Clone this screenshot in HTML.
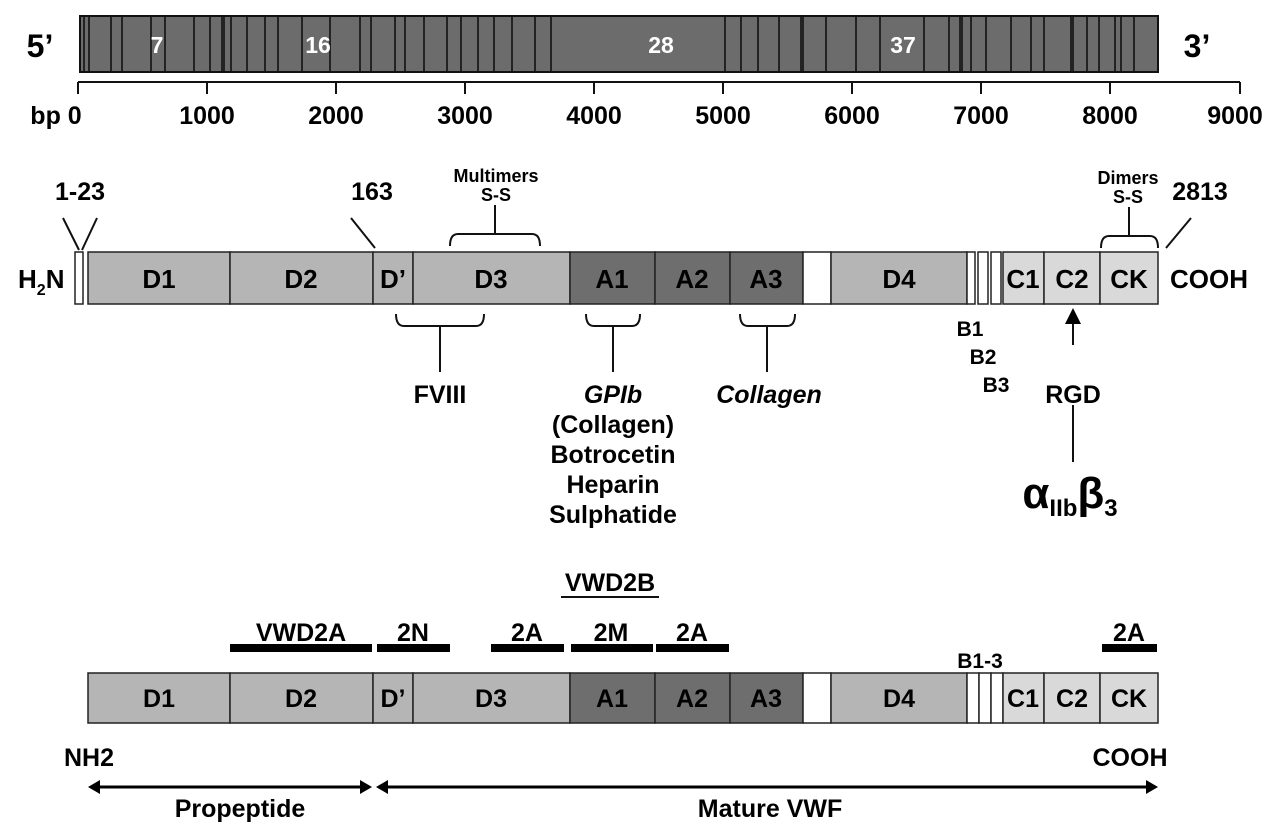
<!DOCTYPE html><html><head><style>body{margin:0;background:#fff}svg{display:block}text{font-family:"Liberation Sans Narrow","Liberation Sans",Arial,sans-serif;font-weight:bold}</style></head><body>
<svg width="1280" height="831" viewBox="0 0 1280 831">
<defs><marker id="ah" markerWidth="8" markerHeight="8" refX="4" refY="4" orient="auto"><path d="M0,0 L8,4 L0,8 Z" fill="#000"/></marker></defs>
<text x="40" y="57" font-size="32" text-anchor="middle">5’</text>
<text x="1197" y="57" font-size="32" text-anchor="middle">3’</text>
<rect x="80" y="16" width="1078" height="56" fill="#6c6c6c" stroke="#111" stroke-width="2"/>
<g stroke="#111" stroke-width="1.6">
<path d="M84 16V72M89 16V72M111 16V72M122 16V72M151 16V72M165 16V72M194 16V72M210 16V72M222 16V72M224 16V72M231 16V72M247 16V72M265 16V72M278 16V72M302 16V72M330 16V72M360 16V72M371 16V72M395 16V72M405 16V72M424 16V72M447 16V72M461 16V72M478 16V72M494 16V72M512 16V72M535 16V72M551 16V72M725 16V72M741 16V72M758 16V72M779 16V72M801 16V72M803 16V72M826 16V72M856 16V72M880 16V72M924 16V72M949 16V72M960 16V72M962 16V72M971 16V72M986 16V72M1011 16V72M1031 16V72M1044 16V72M1071 16V72M1073 16V72M1087 16V72M1099 16V72M1115 16V72M1121 16V72M1134 16V72"/>
</g>
<g fill="#fff" font-size="23" text-anchor="middle"><text x="157" y="53">7</text><text x="318" y="53">16</text><text x="661" y="53">28</text><text x="903" y="53">37</text></g>
<g stroke="#111" stroke-width="2" fill="none"><path d="M78 82H1240M78 82V94M207 82V94M336 82V94M465 82V94M594 82V94M723 82V94M852 82V94M981 82V94M1110 82V94M1240 82V94"/></g>
<g font-size="25" text-anchor="middle"><text x="56" y="124">bp 0</text><text x="207" y="124">1000</text><text x="336" y="124">2000</text><text x="465" y="124">3000</text><text x="594" y="124">4000</text><text x="723" y="124">5000</text><text x="852" y="124">6000</text><text x="981" y="124">7000</text><text x="1110" y="124">8000</text><text x="1235" y="124">9000</text></g>

<g stroke="#222" stroke-width="1.5">
<rect x="75" y="252" width="8" height="52" fill="#fff"/>
<rect x="88" y="252" width="142" height="52" fill="#b5b5b5"/>
<rect x="230" y="252" width="143" height="52" fill="#b5b5b5"/>
<rect x="373" y="252" width="40" height="52" fill="#b5b5b5"/>
<rect x="413" y="252" width="157" height="52" fill="#b5b5b5"/>
<rect x="570" y="252" width="85" height="52" fill="#6e6e6e"/>
<rect x="655" y="252" width="75" height="52" fill="#6e6e6e"/>
<rect x="730" y="252" width="73" height="52" fill="#6e6e6e"/>
<rect x="803" y="252" width="28" height="52" fill="#fff"/>
<rect x="831" y="252" width="136" height="52" fill="#b5b5b5"/>
<rect x="967" y="252" width="8" height="52" fill="#fff"/>
<rect x="978" y="252" width="10" height="52" fill="#fff"/>
<rect x="991" y="252" width="10" height="52" fill="#fff"/>
<rect x="1003" y="252" width="41" height="52" fill="#d9d9d9"/>
<rect x="1044" y="252" width="56" height="52" fill="#d9d9d9"/>
<rect x="1100" y="252" width="58" height="52" fill="#d9d9d9"/>
</g>
<g font-size="26" text-anchor="middle"><text x="159" y="288">D1</text><text x="301" y="288">D2</text><text x="393" y="288">D’</text><text x="491" y="288">D3</text><text x="612" y="288">A1</text><text x="692" y="288">A2</text><text x="766" y="288">A3</text><text x="899" y="288">D4</text><text x="1023" y="288">C1</text><text x="1072" y="288">C2</text><text x="1129" y="288">CK</text></g>
<text x="18" y="288" font-size="26">H<tspan font-size="16" dy="7">2</tspan><tspan dy="-7">N</tspan></text>
<text x="1170" y="288" font-size="26">COOH</text>
<g font-size="25" text-anchor="middle"><text x="80" y="200">1-23</text><text x="372" y="200">163</text><text x="1200" y="200">2813</text></g>
<g font-size="18" text-anchor="middle"><text x="496" y="182">Multimers</text><text x="496" y="201">S-S</text><text x="1128" y="184">Dimers</text><text x="1128" y="203">S-S</text></g>
<g stroke="#111" stroke-width="2" fill="none">
<path d="M63 218L79 250M97 218L82 250M351 218L375 248M1191 218L1166 248"/>
<path d="M450 246Q450 234 458 234H532Q540 234 540 246M495 234V205"/>
<path d="M1101 248Q1101 236 1109 236H1150Q1158 236 1158 248M1129 236V207"/>
<path d="M396 314Q396 326 404 326H476Q484 326 484 314M440 326V372"/>
<path d="M586 314Q586 326 594 326H632Q640 326 640 314M613 326V372"/>
<path d="M740 314Q740 326 748 326H787Q795 326 795 314M767 326V372"/>
<path d="M1073 345V316" marker-end="url(#ah)"/>
<path d="M1073 405V462"/>
</g>
<g font-size="25" text-anchor="middle">
<text x="440" y="403">FVIII</text>
<text x="613" y="403" font-style="italic">GPIb</text>
<text x="613" y="433" font-weight="normal">(Collagen)</text>
<text x="613" y="463" font-weight="normal">Botrocetin</text>
<text x="613" y="493" font-weight="normal">Heparin</text>
<text x="613" y="523" font-weight="normal">Sulphatide</text>
<text x="769" y="403" font-style="italic">Collagen</text>
<text x="1073" y="403">RGD</text>
</g>
<g font-size="21" text-anchor="middle"><text x="970" y="336">B1</text><text x="983" y="364">B2</text><text x="996" y="392">B3</text></g>
<text x="1070" y="508" font-size="44" text-anchor="middle">α<tspan font-size="24" dy="8">IIb</tspan><tspan dy="-8">β</tspan><tspan font-size="24" dy="8">3</tspan></text>

<text x="610" y="591" font-size="25" text-anchor="middle">VWD2B</text>
<path d="M561 597H659" stroke="#111" stroke-width="2"/>
<g font-size="25" text-anchor="middle"><text x="301" y="641">VWD2A</text><text x="413" y="641">2N</text><text x="527" y="641">2A</text><text x="611" y="641">2M</text><text x="692" y="641">2A</text><text x="1129" y="641">2A</text></g>
<g fill="#000"><rect x="230" y="644" width="142" height="8"/><rect x="377" y="644" width="73" height="8"/><rect x="491" y="644" width="73" height="8"/><rect x="571" y="644" width="82" height="8"/><rect x="656" y="644" width="73" height="8"/><rect x="1102" y="644" width="55" height="8"/></g>
<text x="980" y="668" font-size="21" text-anchor="middle">B1-3</text>
<g stroke="#222" stroke-width="1.5">
<rect x="88" y="673" width="142" height="50" fill="#b5b5b5"/>
<rect x="230" y="673" width="143" height="50" fill="#b5b5b5"/>
<rect x="373" y="673" width="40" height="50" fill="#b5b5b5"/>
<rect x="413" y="673" width="157" height="50" fill="#b5b5b5"/>
<rect x="570" y="673" width="85" height="50" fill="#6e6e6e"/>
<rect x="655" y="673" width="75" height="50" fill="#6e6e6e"/>
<rect x="730" y="673" width="73" height="50" fill="#6e6e6e"/>
<rect x="803" y="673" width="28" height="50" fill="#fff"/>
<rect x="831" y="673" width="136" height="50" fill="#b5b5b5"/>
<rect x="967" y="673" width="12" height="50" fill="#fff"/>
<rect x="979" y="673" width="12" height="50" fill="#fff"/>
<rect x="991" y="673" width="12" height="50" fill="#fff"/>
<rect x="1003" y="673" width="41" height="50" fill="#d9d9d9"/>
<rect x="1044" y="673" width="56" height="50" fill="#d9d9d9"/>
<rect x="1100" y="673" width="58" height="50" fill="#d9d9d9"/>
</g>
<g font-size="25" text-anchor="middle"><text x="159" y="707">D1</text><text x="301" y="707">D2</text><text x="393" y="707">D’</text><text x="491" y="707">D3</text><text x="612" y="707">A1</text><text x="692" y="707">A2</text><text x="766" y="707">A3</text><text x="899" y="707">D4</text><text x="1023" y="707">C1</text><text x="1072" y="707">C2</text><text x="1129" y="707">CK</text></g>
<g font-size="25" text-anchor="middle"><text x="89" y="766">NH2</text><text x="1130" y="766">COOH</text><text x="240" y="817">Propeptide</text><text x="770" y="817">Mature VWF</text></g>
<g stroke="#000" stroke-width="3" fill="none"><path d="M94 787H366"/><path d="M382 787H1152"/></g>
<g fill="#000"><path d="M88 787L100 780V794Z"/><path d="M372 787L360 780V794Z"/><path d="M376 787L388 780V794Z"/><path d="M1158 787L1146 780V794Z"/></g>
</svg>
</body></html>
